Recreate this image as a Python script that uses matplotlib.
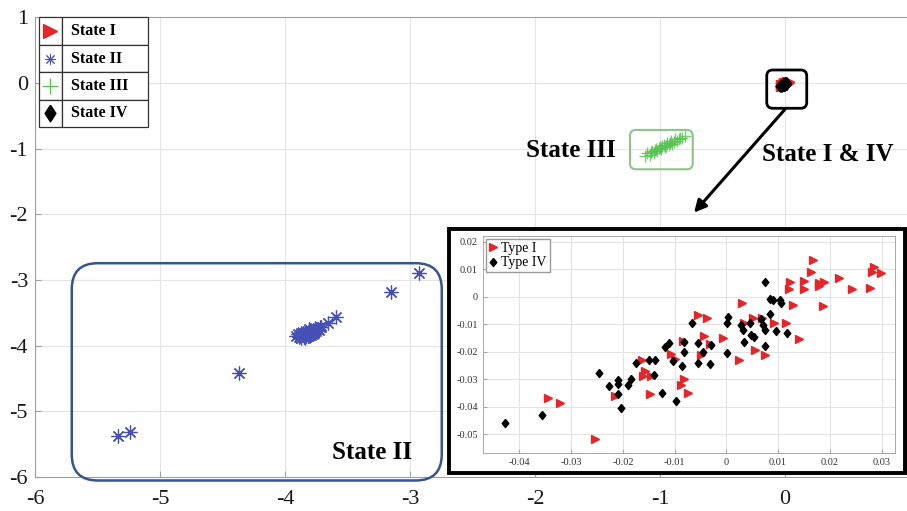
import matplotlib.pyplot as plt
from matplotlib.patches import FancyBboxPatch, Rectangle
from matplotlib.transforms import IdentityTransform

plt.rcParams['font.family'] = ['Liberation Serif', 'DejaVu Serif']
plt.rcParams['axes.unicode_minus'] = False

# State II (main plot, blue asterisks)
s2_x = [-5.34, -5.24, -4.37, -3.15, -2.93, -3.59, -3.66, -3.72,
        -3.91, -3.89, -3.88, -3.87, -3.86, -3.86, -3.85, -3.84, -3.84, -3.83,
        -3.82, -3.82, -3.81, -3.80, -3.80, -3.79, -3.78, -3.78, -3.77, -3.76,
        -3.75, -3.74, -3.73, -3.71, -3.90, -3.85, -3.83, -3.79, -3.77, -3.81,
        -3.87, -3.76]
s2_y = [-5.37, -5.32, -4.42, -3.18, -2.89, -3.57, -3.66, -3.72,
        -3.86, -3.87, -3.83, -3.89, -3.84, -3.80, -3.87, -3.82, -3.88, -3.79,
        -3.85, -3.81, -3.78, -3.84, -3.80, -3.77, -3.82, -3.76, -3.79, -3.75,
        -3.78, -3.74, -3.76, -3.72, -3.82, -3.83, -3.86, -3.83, -3.81, -3.75,
        -3.81, -3.73]

# State III (green plus)
s3_x = [-1.12, -1.10, -1.08, -1.06, -1.05, -1.03, -1.02, -1.00, -0.99, -0.97,
        -0.96, -0.94, -0.93, -0.91, -0.90, -0.88, -0.86, -0.84, -0.82, -0.80,
        -1.07, -1.01, -0.95, -0.89, -0.85, -1.04, -0.98, -0.92]
s3_y = [-1.11, -1.07, -1.09, -1.03, -1.06, -1.00, -1.04, -0.97, -1.01, -0.94,
        -0.98, -0.92, -0.95, -0.89, -0.93, -0.86, -0.88, -0.83, -0.84, -0.80,
        -1.05, -0.99, -0.96, -0.90, -0.85, -1.02, -0.96, -0.91]

# Type I / State I (red triangles)
t1_x = [0.0167, 0.0164, 0.0123, 0.0150, 0.0121, 0.0150, 0.0179, 0.0188, 0.0180,
        0.0217, 0.0243, 0.0277, 0.0281, 0.0285, 0.0299, 0.0187, 0.0128, 0.0030,
        -0.0055, -0.0038, 0.0051, 0.0034, 0.0068, 0.0092, 0.0116, 0.0140,
        -0.0007, -0.0044, -0.0031, -0.0084, -0.0108, -0.0100, -0.0050, 0.0024,
        0.0055, 0.0074, -0.0163, -0.0157, -0.0162, -0.0145, -0.0081, -0.0088,
        -0.0075, -0.0147, -0.0215, -0.0344, -0.0321, -0.0254]
t1_y = [0.0133, 0.0090, 0.0053, 0.0059, 0.0027, 0.0027, 0.0041, 0.0053, 0.0051,
        0.0068, 0.0027, 0.0033, 0.0090, 0.0109, 0.0086, -0.0035, -0.0031, -0.0023,
        -0.0068, -0.0077, -0.0077, -0.0096, -0.0077, -0.0094, -0.0094, -0.0153,
        -0.0149, -0.0144, -0.0173, -0.0159, -0.0207, -0.0225, -0.0213, -0.0229,
        -0.0195, -0.0213, -0.0231, -0.0271, -0.0288, -0.0288, -0.0298, -0.0320,
        -0.0350, -0.0355, -0.0361, -0.0367, -0.0385, -0.0516]

# Type IV / State IV (black diamonds)
t4_x = [0.0074, 0.0085, 0.0090, 0.0103, 0.0106, 0.0084, 0.0003, 0.0001, -0.0066,
        0.0029, 0.0032, 0.0045, 0.0066, 0.0070, 0.0074, 0.0095, 0.0117, 0.0048,
        0.0053, 0.0034, 0.0075, 0.0002, -0.0029, -0.0055, -0.0081, -0.0110,
        -0.0118, -0.0082, -0.0046, -0.0103, -0.0055, -0.0031, -0.0086, -0.0175,
        -0.0150, -0.0137, -0.0139, -0.0185, -0.0210, -0.0210, -0.0190, -0.0226,
        -0.0247, -0.0210, -0.0204, -0.0125, -0.0098, -0.0357, -0.0428]
t4_y = [0.0053, -0.0007, -0.0013, -0.0010, -0.0022, -0.0062, -0.0074, -0.0094,
        -0.0094, -0.0104, -0.0122, -0.0096, -0.0080, -0.0104, -0.0122, -0.0126,
        -0.0131, -0.0140, -0.0146, -0.0165, -0.0179, -0.0203, -0.0177, -0.0167,
        -0.0165, -0.0167, -0.0183, -0.0199, -0.0201, -0.0235, -0.0240, -0.0243,
        -0.0253, -0.0240, -0.0228, -0.0231, -0.0283, -0.0298, -0.0303, -0.0316,
        -0.0320, -0.0326, -0.0278, -0.0355, -0.0403, -0.0349, -0.0380, -0.0431,
        -0.0458]

legend_labels = ['State I', 'State II', 'State III', 'State IV']

red = '#e3262a'
blue = '#4650b4'
green = '#55c24f'
diamond = [(0, 1), (0.82, 0), (0, -1), (-0.82, 0), (0, 1)]
diamond_tall = [(0, 1), (0.65, 0), (0, -1), (-0.65, 0), (0, 1)]

fig = plt.figure(figsize=(9.07, 5.11), dpi=100)
ax = fig.add_axes([0.0386, 0.0665, 0.9647, 0.8996])
ax.set_xlim(-6, 1)
ax.set_ylim(-6, 1)
ax.set_xticks(range(-6, 1))
ax.set_yticks(range(-6, 2))
ax.grid(True, color='#e4e4e4', lw=0.8)
ax.set_axisbelow(True)
for sp in ax.spines.values():
    sp.set_color('#a0a0a0')
    sp.set_linewidth(0.8)
ax.tick_params(direction='in', length=4, colors='#a0a0a0', labelcolor='#1a1a1a',
               labelsize=16)
ax.tick_params(axis='x', pad=9)
ax.tick_params(axis='y', pad=5)

ax.plot(s2_x, s2_y, ls='none', marker=(8, 2, 0), ms=10, mec=blue, mew=0.9)
ax.plot(s3_x, s3_y, ls='none', marker='+', ms=8, mec=green, mew=1.0, alpha=0.8)
ax.plot(t1_x, t1_y, ls='none', marker='>', ms=7, color=red)
ax.plot(t4_x, t4_y, ls='none', marker=diamond, ms=8, color='black')


def rbox(x0, y0, x1, y1, r, ec, lw):
    (px0, py0), (px1, py1) = ax.transData.transform([(x0, y0), (x1, y1)])
    p = FancyBboxPatch((px0, py1), px1 - px0, py0 - py1,
                       boxstyle=f"round,pad=0,rounding_size={r}",
                       transform=IdentityTransform(), fc='none', ec=ec, lw=lw,
                       clip_on=False, zorder=4)
    fig.add_artist(p)


rbox(-5.706, -2.744, -2.746, -6.053, 26, '#34558f', 1.8)
rbox(-1.24, -0.715, -0.738, -1.314, 6, '#8cc48a', 1.5)
rbox(-0.146, 0.198, 0.174, -0.385, 6, 'black', 2.0)

ax.annotate('', xy=(-0.728, -1.974), xytext=(0.0, -0.40),
            arrowprops=dict(arrowstyle='-|>', color='black', lw=2.2,
                            mutation_scale=18, shrinkA=0, shrinkB=0),
            annotation_clip=False)

ax.text(-1.712, -1.035, 'State III', fontsize=18, fontweight='bold',
        ha='center', va='center')
ax.text(0.344, -1.096, 'State I & IV', fontsize=18, fontweight='bold',
        ha='center', va='center')
ax.text(-3.304, -5.63, 'State II', fontsize=18, fontweight='bold',
        ha='center', va='center', zorder=5)

# table-like legend
tb = ax.table(cellText=[['', t] for t in legend_labels], colWidths=[0.027, 0.098],
              cellLoc='left', bbox=[0.004, 0.761, 0.125, 0.239])
tb.set_zorder(5)
tb.auto_set_font_size(False)
for (r, c), cell in tb.get_celld().items():
    cell.set_edgecolor('#333333')
    cell.set_linewidth(0.9)
    cell.get_text().set_fontsize(11.5)
    cell.get_text().set_fontweight('bold')
row_y = [1.0 - 0.239 * (i + 0.5) / 4 for i in range(4)]
mx = 0.0175
ax.plot([mx], [row_y[0]], marker='>', ms=10, color=red, ls='none',
        transform=ax.transAxes, clip_on=False, zorder=6)
ax.plot([mx], [row_y[1]], marker=(8, 2, 0), ms=8, mec=blue, mew=0.7, ls='none',
        transform=ax.transAxes, clip_on=False, zorder=6)
ax.plot([mx], [row_y[2]], marker='+', ms=11, mec=green, mew=0.9, ls='none',
        transform=ax.transAxes, clip_on=False, zorder=6)
ax.plot([mx], [row_y[3]], marker=diamond_tall, ms=12, color='black', ls='none',
        transform=ax.transAxes, clip_on=False, zorder=6)

# inset frame
fig.add_artist(Rectangle((0.498, 0.0705), 0.503, 0.478, transform=fig.transFigure,
                         fc='#9a9a9a', ec='none', zorder=1.9))
fig.add_artist(Rectangle((0.495, 0.0744), 0.503, 0.478, transform=fig.transFigure,
                         fc='white', ec='black', lw=2.8, zorder=2))

ax2 = fig.add_axes([0.5322, 0.1129, 0.4546, 0.4258])
ax2.set_zorder(3)
ax2.set_xlim(-0.0471, 0.0326)
ax2.set_ylim(-0.0569, 0.0222)
ax2.set_xticks([-0.04, -0.03, -0.02, -0.01, 0, 0.01, 0.02, 0.03])
ax2.set_xticklabels(['-0.04', '-0.03', '-0.02', '-0.01', '0', '0.01', '0.02', '0.03'])
ax2.set_yticks([-0.05, -0.04, -0.03, -0.02, -0.01, 0, 0.01, 0.02])
ax2.set_yticklabels(['-0.05', '-0.04', '-0.03', '-0.02', '-0.01', '0', '0.01', '0.02'])
ax2.grid(True, color='#e2e2e2', lw=0.7)
ax2.set_axisbelow(True)
for sp in ax2.spines.values():
    sp.set_color('#a8a8a8')
    sp.set_linewidth(0.7)
ax2.tick_params(direction='in', length=3, colors='#a8a8a8', labelcolor='#333333',
                labelsize=7.5)
ax2.plot(t1_x, t1_y, ls='none', marker='>', ms=5.2, color=red, label='Type I')
ax2.plot(t4_x, t4_y, ls='none', marker=diamond, ms=5.8, color='black',
         label='Type IV')
ax2.legend(loc='upper left', fontsize=10, frameon=True, fancybox=False,
           edgecolor='#9a9a9a', borderaxespad=0.25, borderpad=0.2,
           handlelength=0.6, handletextpad=0.3, labelspacing=0.1,
           framealpha=1)

fig.savefig('out.png', dpi=100)
